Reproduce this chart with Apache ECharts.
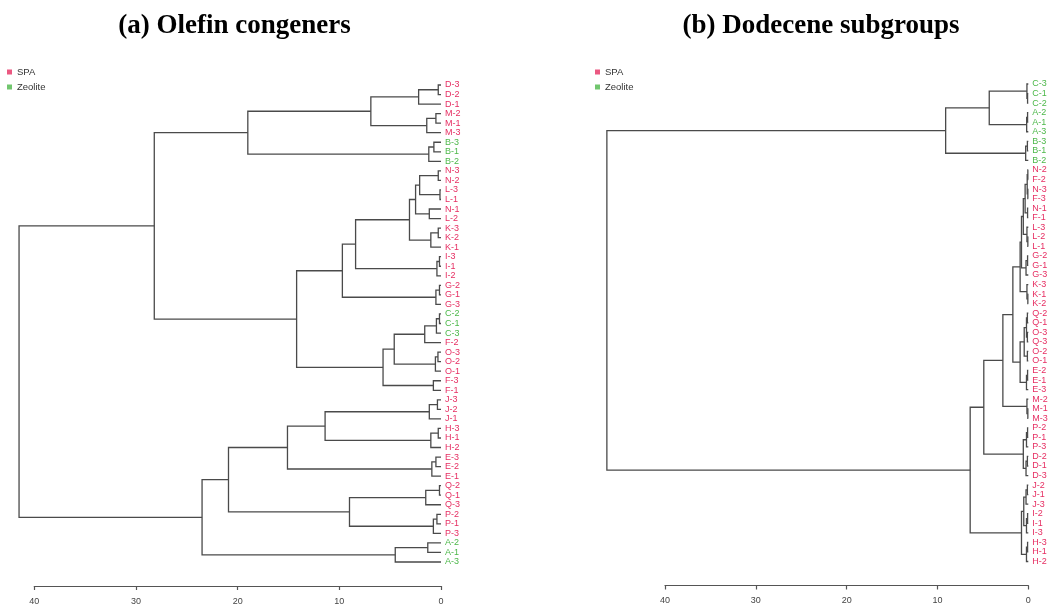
<!DOCTYPE html>
<html>
<head>
<meta charset="utf-8">
<script src="https://cdn.jsdelivr.net/npm/echarts@6/dist/echarts.min.js"></script>
<style>
  html, body { margin: 0; padding: 0; background: #ffffff; }
  #chart { width: 1051px; height: 609px; }
</style>
</head>
<body>
<div id="chart"></div>
<script>
// Catalyst families: A, B and C are zeolites, the rest are SPA
const zeoliteFamilies = ['A', 'B', 'C'];
const groupNames = ['SPA', 'Zeolite'];
const groupColors = ['#E62E62', '#4DB84A'];
const distanceTicks = [0, 10, 20, 30, 40];
const panelTitles = ['(a) Olefin congeners', '(b) Dodecene subgroups'];

// Cluster trees, each merge written as [height, upper branch, lower branch]
const olefinTree = [41.5,
  [28.2,
    [19.0,
      [6.9,
        [2.2, [0.27, 'D-3', 'D-2'], 'D-1'],
        [1.4, [0.5, 'M-2', 'M-1'], 'M-3']],
      [1.2, [0.7, 'B-3', 'B-1'], 'B-2']],
    [14.2,
      [9.7,
        [8.4,
          [3.1,
            [2.5,
              [2.1, [0.27, 'N-3', 'N-2'], [0.1, 'L-3', 'L-1']],
              [1.15, 'N-1', 'L-2']],
            [1.0, [0.27, 'K-3', 'K-2'], 'K-1']],
          [0.4, [0.15, 'I-3', 'I-1'], 'I-2']],
        [0.5, [0.15, 'G-2', 'G-1'], 'G-3']],
      [5.7,
        [4.6,
          [1.6, [0.45, [0.15, 'C-2', 'C-1'], 'C-3'], 'F-2'],
          [0.55, [0.3, 'O-3', 'O-2'], 'O-1']],
        [0.75, 'F-3', 'F-1']]]],
  [23.5,
    [20.9,
      [15.1,
        [11.4,
          [1.15, [0.35, 'J-3', 'J-2'], 'J-1'],
          [1.0, [0.27, 'H-3', 'H-1'], 'H-2']],
        [0.9, [0.5, 'E-3', 'E-2'], 'E-1']],
      [9.0,
        [1.5, [0.15, 'Q-2', 'Q-1'], 'Q-3'],
        [0.75, [0.4, 'P-2', 'P-1'], 'P-3']]],
    [4.5, [1.3, 'A-2', 'A-1'], 'A-3']]];

const dodeceneTree = [46.4,
  [9.1,
    [4.3,
      [0.15, 'C-3', [0.08, 'C-1', 'C-2']],
      [0.18, [0.08, 'A-2', 'A-1'], 'A-3']],
    [0.29, [0.1, 'B-3', 'B-1'], 'B-2']],
  [6.4,
    [4.9,
      [2.8,
        [1.7,
          [0.9,
            [0.75,
              [0.55,
                [0.35,
                  [0.12, [0.05, 'N-2', 'F-2'], [0.05, 'N-3', 'F-3']],
                  [0.08, 'N-1', 'F-1']],
                [0.15, 'L-3', [0.05, 'L-2', 'L-1']]],
              [0.25, [0.08, 'G-2', 'G-1'], 'G-3']],
            [0.15, 'K-3', [0.05, 'K-1', 'K-2']]],
          [0.9,
            [0.45,
              [0.2, [0.1, 'Q-2', 'Q-1'], [0.1, 'O-3', 'Q-3']],
              [0.1, 'O-2', 'O-1']],
            [0.2, [0.08, 'E-2', 'E-1'], 'E-3']]],
        [0.15, 'M-2', [0.05, 'M-1', 'M-3']]],
      [0.55,
        [0.2, [0.08, 'P-2', 'P-1'], 'P-3'],
        [0.25, [0.1, 'D-2', 'D-1'], 'D-3']]],
    [0.75,
      [0.5,
        [0.25, [0.1, 'J-2', 'J-1'], 'J-3'],
        [0.2, [0.08, 'I-2', 'I-1'], 'I-3']],
      [0.2, [0.08, 'H-3', 'H-1'], 'H-2']]]];

// Walk a tree: leaves get consecutive row numbers, every merge sits
// midway between its two branches (classic dendrogram layout)
function layoutTree(tree) {
  const leaves = [];
  const merges = [];
  (function walk(node) {
    if (typeof node === 'string') {
      leaves.push(node);
      return { h: 0, y: leaves.length - 1 };
    }
    const a = walk(node[1]);
    const b = walk(node[2]);
    merges.push([node[0], a.y, b.y, a.h, b.h]);
    return { h: node[0], y: (a.y + b.y) / 2 };
  })(tree);
  return { leaves, merges };
}

function groupColor(label) {
  return zeoliteFamilies.indexOf(label.charAt(0)) >= 0 ? groupColors[1] : groupColors[0];
}

const panels = [layoutTree(olefinTree), layoutTree(dodeceneTree)];
const grids = [
  { left: 34.3, top: 85, width: 406.7, height: 477 },
  { left: 665, top: 84, width: 363.3, height: 477.5 }
];
const titleCenters = [234.5, 821];
const legendLefts = [7, 595];

function renderMerge(params, api) {
  const h = api.value(0), y1 = api.value(1), y2 = api.value(2);
  const h1 = api.value(3), h2 = api.value(4);
  const pts = [api.coord([h1, y1]), api.coord([h, y1]), api.coord([h, y2]), api.coord([h2, y2])];
  return {
    type: 'polyline',
    shape: { points: pts },
    style: { stroke: '#4a4a4a', lineWidth: 1.3, fill: null }
  };
}

const option = {
  animation: false,
  backgroundColor: '#ffffff',
  textStyle: { fontFamily: 'Liberation Sans, Arial, sans-serif' },
  graphic: panelTitles.map((t, i) => ({
    type: 'text',
    x: titleCenters[i],
    y: 26,
    style: {
      text: t,
      textAlign: 'center',
      textVerticalAlign: 'middle',
      font: 'bold 27px "Liberation Serif", "Times New Roman", serif',
      fill: '#000000'
    }
  })),
  legend: legendLefts.map(l => ({
    data: groupNames,
    orient: 'vertical',
    left: l,
    top: 67,
    icon: 'rect',
    itemWidth: 5,
    itemHeight: 5,
    itemGap: 5,
    padding: 0,
    selectedMode: false,
    textStyle: { fontSize: 9.5, color: '#333333', fontFamily: 'Liberation Sans, Arial, sans-serif' }
  })),
  grid: grids,
  xAxis: grids.map((g, i) => ({
    type: 'value',
    gridIndex: i,
    min: distanceTicks[0],
    max: distanceTicks[distanceTicks.length - 1],
    interval: 10,
    inverse: true,
    position: 'bottom',
    offset: 24,
    splitLine: { show: false },
    axisLine: { show: true, onZero: false, lineStyle: { color: '#555555', width: 1.2 } },
    axisTick: { show: true, length: 4, lineStyle: { color: '#555555', width: 1.2 } },
    axisLabel: { fontSize: 9, color: '#444444', margin: 11 }
  })),
  yAxis: panels.map((p, i) => ({
    type: 'value',
    gridIndex: i,
    min: 0,
    max: p.leaves.length - 1,
    interval: 1,
    inverse: true,
    position: 'right',
    splitLine: { show: false },
    axisLine: { show: false },
    axisTick: { show: false },
    axisLabel: {
      margin: 4,
      fontSize: 9,
      formatter: v => p.leaves[Math.round(v)] || '',
      color: v => groupColor(p.leaves[Math.round(Number(v))] || 'X')
    }
  })),
  series: panels.map((p, i) => ({
    type: 'custom',
    xAxisIndex: i,
    yAxisIndex: i,
    clip: false,
    silent: true,
    renderItem: renderMerge,
    encode: { x: [0, 3, 4], y: [1, 2] },
    data: p.merges
  })).concat(groupNames.map((n, k) => ({
    type: 'scatter',
    name: n,
    xAxisIndex: 0,
    yAxisIndex: 0,
    itemStyle: { color: groupColors[k] },
    data: []
  })))
};

const chart = echarts.init(document.getElementById('chart'), null, { renderer: 'canvas' });
chart.setOption(option);
</script>
</body>
</html>
